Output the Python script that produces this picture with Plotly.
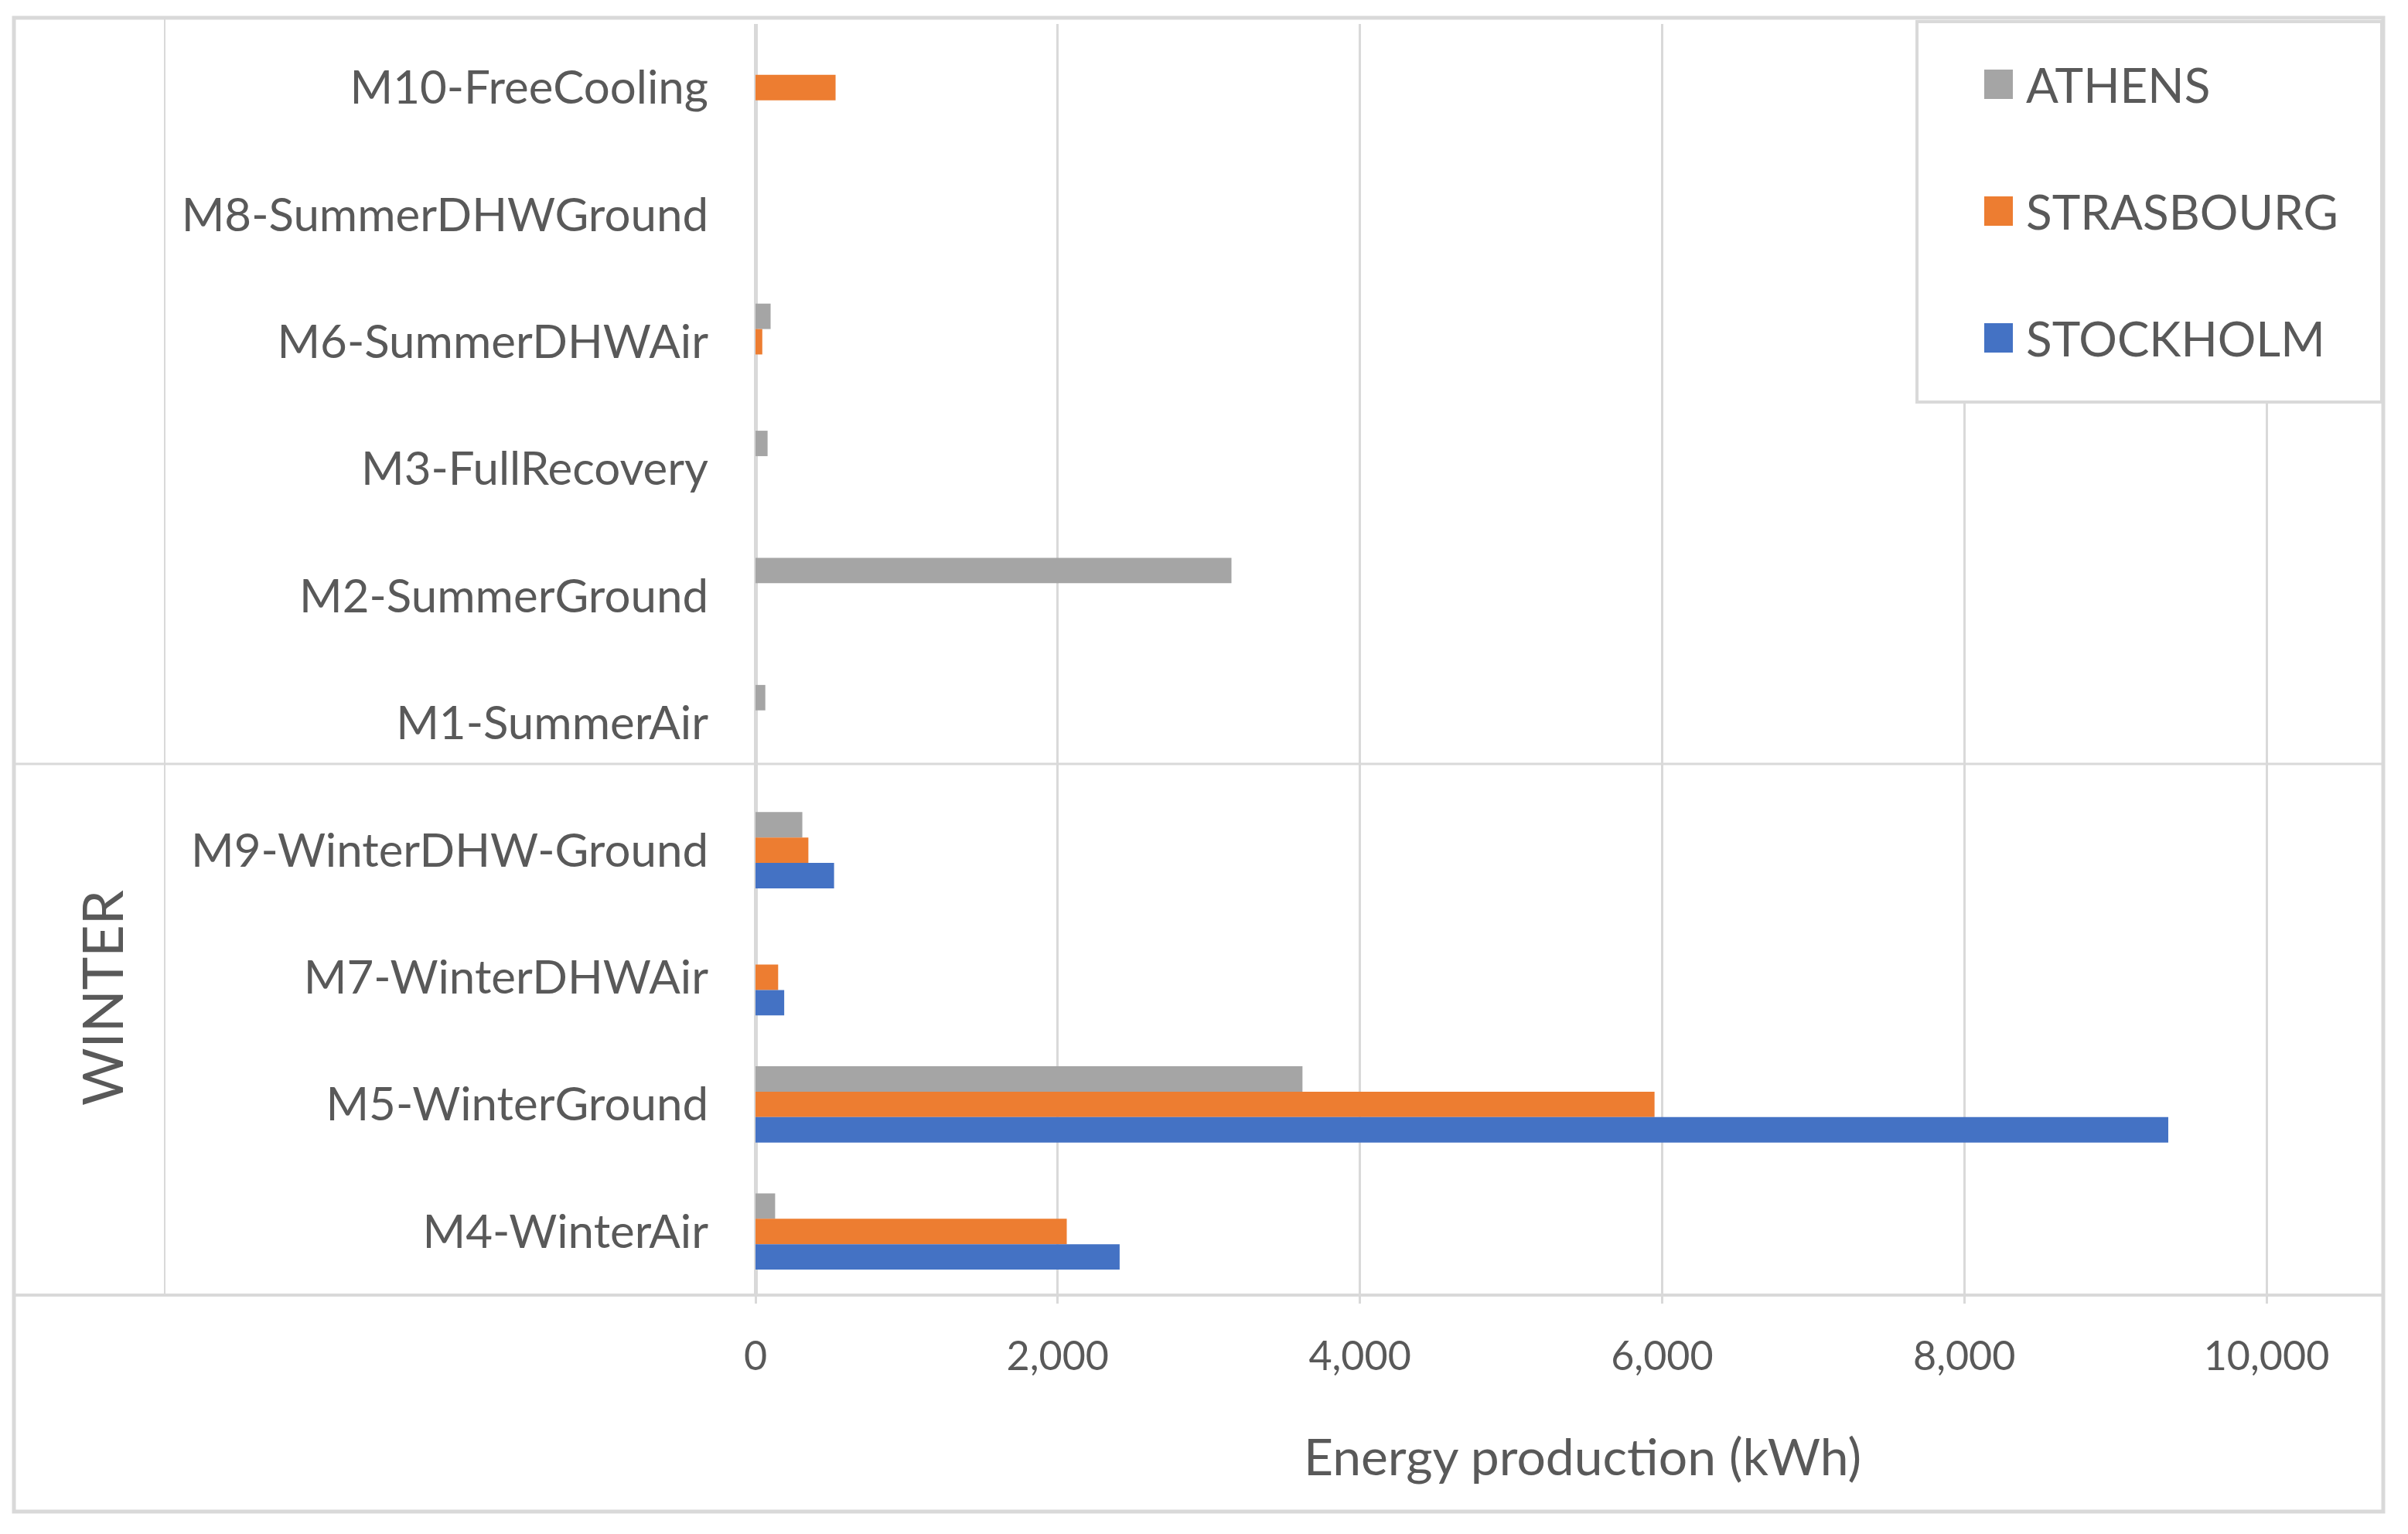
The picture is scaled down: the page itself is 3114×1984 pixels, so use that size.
import plotly.graph_objects as go

# Categories listed top to bottom, as they appear in the chart
categories = [
    "M10-FreeCooling", "M8-SummerDHWGround", "M6-SummerDHWAir", "M3-FullRecovery",
    "M2-SummerGround", "M1-SummerAir", "M9-WinterDHW-Ground", "M7-WinterDHWAir",
    "M5-WinterGround", "M4-WinterAir",
]
season_label = "WINTER"

# Energy production (kWh) per city
athens = [0, 0, 100, 80, 3150, 65, 310, 0, 3620, 130]
strasbourg = [530, 0, 45, 0, 0, 0, 350, 150, 5950, 2060]
stockholm = [0, 0, 0, 0, 0, 0, 520, 190, 9350, 2410]

series_names = ["ATHENS", "STRASBOURG", "STOCKHOLM"]
series_colors = ["#A5A5A5", "#ED7D31", "#4472C4"]

x_ticks = [0, 2000, 4000, 6000, 8000, 10000]
x_title = "Energy production (kWh)"

W, H = 3114, 1984
# plot area in window pixels (page body adds an 8px margin)
PL, PR, PT, PB = 977, 3080, 31, 1675
BODY = 8
FONT = "Lato, 'Noto Sans', sans-serif"
TXT = "#595959"
LINE = "#d9d9d9"


def px(x):
    return (x - PL) / (PR - PL)


def py(y):
    return (PB - y) / (PB - PT)


fig = go.Figure()
for name, vals, col in zip(series_names, [athens, strasbourg, stockholm], series_colors):
    fig.add_trace(go.Bar(
        y=categories, x=vals, name=name, orientation="h",
        marker=dict(color=col, line=dict(width=0)), showlegend=False,
    ))

shapes = [
    # outer chart border
    dict(type="rect", xref="paper", yref="paper", x0=px(18), x1=px(3082), y0=py(1955), y1=py(23),
         line=dict(color=LINE, width=5), layer="below"),
    # category group divider
    dict(type="line", xref="paper", yref="paper", x0=px(213), x1=px(213), y0=py(23), y1=py(1675),
         line=dict(color=LINE, width=2)),
    # season separator
    dict(type="line", xref="paper", yref="paper", x0=px(18), x1=px(3082), y0=py(988), y1=py(988),
         line=dict(color=LINE, width=3)),
    # bottom axis line
    dict(type="line", xref="paper", yref="paper", x0=px(18), x1=px(3082), y0=0, y1=0,
         line=dict(color=LINE, width=4)),
    # legend box
    dict(type="rect", xref="paper", yref="paper", x0=px(2479), x1=px(3080), y0=py(520), y1=py(28),
         fillcolor="white", line=dict(color=LINE, width=4), layer="above"),
]

annotations = [
    dict(text=season_label, xref="paper", yref="paper", x=px(131), y=py(1291), textangle=-90,
         xanchor="center", yanchor="middle",
         showarrow=False, font=dict(family=FONT, size=72, color=TXT)),
    # axis title placed like the original (slightly right of plot centre)
    dict(text=x_title, xref="paper", yref="paper", x=px(2046), y=py(1882),
         xanchor="center", yanchor="middle", showarrow=False,
         font=dict(family=FONT, size=66, color=TXT)),
]

# manual legend (large swatches like the original)
for i, (name, col) in enumerate(zip(series_names, series_colors)):
    yc = 109 + i * 164
    shapes.append(dict(type="rect", xref="paper", yref="paper", x0=px(2566), x1=px(2603),
                       y0=py(yc + 19), y1=py(yc - 19), fillcolor=col, line=dict(width=0),
                       layer="above"))
    annotations.append(dict(text=name, xref="paper", yref="paper", x=px(2618), y=py(yc),
                            xanchor="left", yanchor="middle", showarrow=False,
                            font=dict(family=FONT, size=62, color=TXT)))

fig.update_layout(
    width=W, height=H,
    margin=dict(l=PL - BODY, r=W - (PR - BODY), t=PT - BODY, b=H - (PB - BODY)),
    paper_bgcolor="white", plot_bgcolor="white",
    barmode="group", bargap=0.4, bargroupgap=0,
    shapes=shapes, annotations=annotations,
    font=dict(family=FONT, color=TXT),
)
fig.update_xaxes(
    range=[0, (PR - PL) / 0.1954], tickvals=x_ticks, tickformat=",",
    showgrid=True, gridcolor=LINE, gridwidth=3,
    zeroline=True, zerolinecolor=LINE, zerolinewidth=5,
    ticks="outside", ticklen=10, tickcolor=LINE, tickwidth=3,
    ticklabelstandoff=24, tickfont=dict(family=FONT, size=52, color=TXT),
    showline=False,
)
fig.update_yaxes(
    autorange="reversed", showgrid=False, zeroline=False, showline=False, ticks="",
    ticklabelstandoff=60, tickfont=dict(family=FONT, size=60, color=TXT),
)

fig.write_html("out.html")
